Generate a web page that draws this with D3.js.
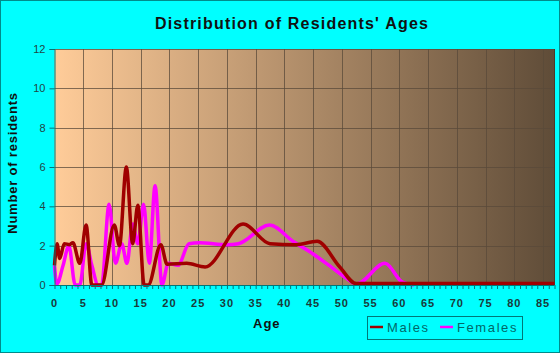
<!DOCTYPE html>
<html>
<head>
<meta charset="utf-8">
<script src="https://cdn.jsdelivr.net/npm/d3@7"></script>
<style>
  html, body { margin: 0; padding: 0; background: #00ffff; }
  svg { display: block; }
  text { font-family: "Liberation Sans", Arial, sans-serif; }
</style>
</head>
<body>
<svg id="chart" width="560" height="353"></svg>
<script>
// ---- data ----
const titleText = "Distribution of Residents' Ages";
const xTicks = [0, 5, 10, 15, 20, 25, 30, 35, 40, 45, 50, 55, 60, 65, 70, 75, 80, 85];
const yTicks = [0, 2, 4, 6, 8, 10, 12];
const seriesNames = ["Males", "Females"];

const maleAges   = [0, 0.45, 0.9, 1.7, 2.6, 3.2, 4.4, 5.5, 6.5, 8.2, 10.4, 11.3, 12.5, 13.6, 14.5, 15.6, 16.3, 18.5, 19.6, 23, 26.2, 32.8, 37.5, 42, 45.7, 49.6, 52.5, 60, 87];
const maleValues = [1.0, 2.1, 1.35, 2.1, 2.05, 2.15, 1.1, 3.05, 0, 0, 3.05, 2.0, 6.0, 2.1, 4.05, 0, 0, 2.05, 1.05, 1.1, 0.92, 3.1, 2.1, 2.05, 2.22, 0.93, 0.07, 0.07, 0.07];

const femaleAges   = [0, 0.4, 1.5, 2.5, 3.6, 4.4, 5.5, 6.5, 7.6, 8.2, 9.5, 10.6, 11.7, 12.6, 13.6, 14.5, 15.5, 16.5, 17.5, 18.7, 19.8, 21.5, 23.4, 25.2, 30, 32, 37.4, 41.6, 45, 47.9, 50.8, 52.5, 57.5, 60.5, 62.5];
const femaleValues = [1.0, 0.05, 1.0, 2.0, 0, 0, 2.1, 1.0, 0, 0, 4.1, 1.1, 2.1, 1.1, 3.1, 2.1, 4.1, 1.1, 5.05, 0, 1.1, 1.0, 2.1, 2.15, 2.05, 2.1, 3.05, 2.2, 1.58, 0.97, 0.34, 0.05, 1.1, 0.15, 0];

// ---- layout ----
const W = 560, H = 353;
const plot = { left: 54.5, right: 554.5, top: 49, bottom: 285 };
const colors = { Males: "#a00000", Females: "#ff00ff" };
const teal = "#007777";

const svg = d3.select("#chart");

// outer border
svg.append("rect").attr("x", 0.5).attr("y", 0.5).attr("width", W - 1).attr("height", H - 1)
  .attr("fill", "#00ffff").attr("stroke", "#008b8b").attr("stroke-width", 1);

const x = d3.scaleLinear().domain([0, 87]).range([plot.left, plot.right]);
const y = d3.scaleLinear().domain([0, 12]).range([plot.bottom, plot.top]);

// gradient background
const defs = svg.append("defs");
const grad = defs.append("linearGradient").attr("id", "bg").attr("x1", "0%").attr("x2", "100%").attr("y1", "0%").attr("y2", "0%");
grad.append("stop").attr("offset", "0%").attr("stop-color", "#ffcc99");
grad.append("stop").attr("offset", "100%").attr("stop-color", "#5f4c38");

svg.append("rect").attr("x", plot.left).attr("y", plot.top)
  .attr("width", plot.right - plot.left).attr("height", plot.bottom - plot.top)
  .attr("fill", "url(#bg)");

// grid
const grid = svg.append("g").attr("stroke", "#5a4a3a").attr("stroke-opacity", 0.75).attr("stroke-width", 1);
grid.selectAll("line.v").data(xTicks.filter(d => d > 0)).join("line")
  .attr("x1", d => Math.round(x(d)) + 0.5).attr("x2", d => Math.round(x(d)) + 0.5)
  .attr("y1", plot.top).attr("y2", plot.bottom);
grid.selectAll("line.h").data(yTicks.filter(d => d > 0)).join("line")
  .attr("y1", d => Math.round(y(d)) + 0.5).attr("y2", d => Math.round(y(d)) + 0.5)
  .attr("x1", plot.left).attr("x2", plot.right);
// right border
svg.append("line").attr("x1", plot.right).attr("x2", plot.right).attr("y1", plot.top).attr("y2", plot.bottom)
  .attr("stroke", "#4a3a2a").attr("stroke-width", 1);

// lines
const line = d3.line().x(d => x(d[0])).y(d => y(d[1])).curve(d3.curveMonotoneX);
const maleData = maleAges.map((a, i) => [a, maleValues[i]]);
const femaleData = femaleAges.map((a, i) => [a, femaleValues[i]]);

svg.append("path").datum(femaleData).attr("d", line)
  .attr("fill", "none").attr("stroke", colors.Females).attr("stroke-width", 3.5).attr("stroke-linejoin", "round");
svg.append("path").datum(maleData).attr("d", line)
  .attr("fill", "none").attr("stroke", colors.Males).attr("stroke-width", 3.5).attr("stroke-linejoin", "round");

// axes
const xAxis = d3.axisBottom(x).tickValues(d3.range(0, 88, 1)).tickSize(4).tickFormat("");
const gx = svg.append("g").attr("transform", `translate(0,${plot.bottom})`).call(xAxis);
gx.select(".domain").attr("stroke", teal).attr("d", `M${plot.left},0.5H${plot.right}`);
gx.selectAll(".tick line").attr("stroke", teal);

const xLabels = svg.append("g");
xLabels.selectAll("text").data(xTicks).join("text")
  .attr("x", d => x(d)).attr("y", 307)
  .attr("text-anchor", "middle").attr("font-size", 11).attr("font-weight", "bold")
  .attr("letter-spacing", 1).attr("fill", "#1a3a3a")
  .text(d => d);

const yAxis = d3.axisLeft(y).tickValues(yTicks).tickSize(5).tickPadding(4);
const gy = svg.append("g").attr("transform", `translate(${plot.left},0)`).call(yAxis);
gy.select(".domain").attr("stroke", teal);
gy.selectAll(".tick line").attr("stroke", teal);
gy.selectAll(".tick text").attr("font-size", 11).attr("fill", "#224444")
  .attr("font-family", "'Liberation Sans', Arial, sans-serif");

// title
svg.append("text").attr("x", 292).attr("y", 29).attr("text-anchor", "middle")
  .attr("font-size", 16).attr("font-weight", "bold").attr("letter-spacing", 1.2).attr("fill", "#111")
  .text(titleText);

// axis titles
svg.append("text").attr("x", 253).attr("y", 328)
  .attr("font-size", 13).attr("font-weight", "bold").attr("letter-spacing", 1).attr("fill", "#111")
  .text("Age");
svg.append("text").attr("transform", `translate(17,163) rotate(-90)`).attr("text-anchor", "middle")
  .attr("font-size", 13).attr("font-weight", "bold").attr("letter-spacing", 0.8).attr("fill", "#111")
  .text("Number of residents");

// legend
const lg = svg.append("g");
lg.append("rect").attr("x", 367.5).attr("y", 316.5).attr("width", 155).attr("height", 23)
  .attr("fill", "none").attr("stroke", teal).attr("stroke-width", 1);
const legendPos = [{ lx: 370, tx: 387 }, { lx: 440, tx: 457 }];
seriesNames.forEach((name, i) => {
  lg.append("line").attr("x1", legendPos[i].lx).attr("x2", legendPos[i].lx + 13)
    .attr("y1", 327).attr("y2", 327).attr("stroke", colors[name]).attr("stroke-width", 2.5);
  lg.append("text").attr("x", legendPos[i].tx).attr("y", 332)
    .attr("font-size", 13).attr("letter-spacing", 1.6).attr("fill", "#006868")
    .text(name);
});
</script>
</body>
</html>
